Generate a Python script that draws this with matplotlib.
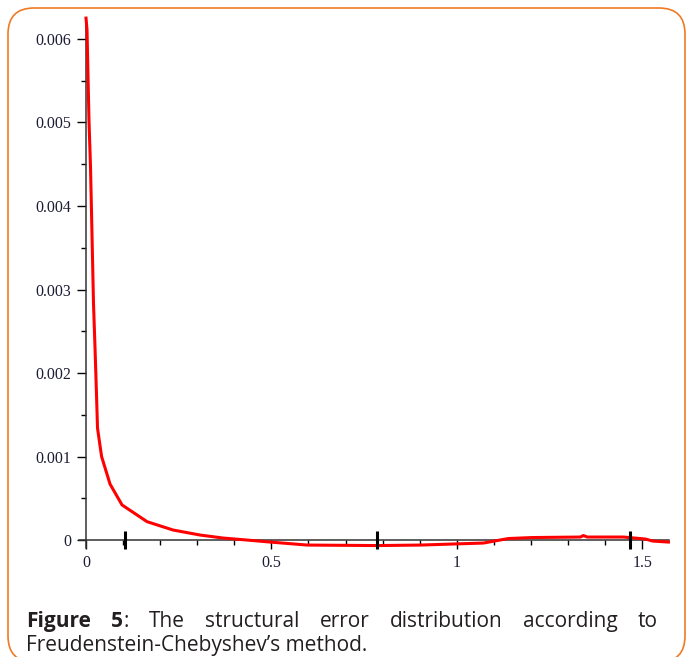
import matplotlib
matplotlib.use("Agg")
import matplotlib.pyplot as plt
from matplotlib.patches import FancyBboxPatch
from matplotlib.transforms import IdentityTransform
from matplotlib.ticker import MultipleLocator, FuncFormatter

# structural error curve (x in rad, y in units of 1e-3)
x_vals = [0, 0.0027, 0.0054, 0.0081, 0.0121, 0.0148, 0.0175, 0.0202, 0.0243,
          0.0283, 0.0310, 0.042, 0.0648, 0.0972, 0.1646, 0.2348, 0.3077,
          0.3698, 0.4345, 0.4966, 0.5965, 0.7854, 0.9015, 1.0715, 1.139,
          1.2038, 1.3333, 1.341, 1.352, 1.450, 1.509, 1.528, 1.5708]
y_vals = [6.25, 6.11, 5.54, 5.01, 4.47, 3.93, 3.38, 2.83, 2.30,
          1.74, 1.34, 1.00, 0.67, 0.42, 0.22, 0.12, 0.06,
          0.024, 0.0, -0.024, -0.06, -0.066, -0.06, -0.036, 0.018,
          0.03, 0.036, 0.054, 0.036, 0.036, 0.012, -0.012, -0.024]
y_vals = [v * 1e-3 for v in y_vals]

# Chebyshev precision points marked on the x axis
precision_pts = [0.105, 0.785, 1.466]

caption_bold = ["Figure", "5"]
caption_line1 = ["The", "structural", "error", "distribution", "according", "to"]
caption_line2 = "Freudenstein-Chebyshev\u2019s method."

W, H = 686, 657
fig = plt.figure(figsize=(W / 100, H / 100), dpi=100)
fig.patch.set_facecolor("white")

ax = fig.add_axes([78.6 / W, (H - 548.4) / H, 590.3 / W, 530.3 / H])
ax.set_xlim(-0.02, 1.572)
ax.set_ylim(-0.0001, 0.00625)

ax.plot(x_vals, y_vals, color="#ff0000", lw=2.2, clip_on=False, zorder=3)
ax.plot(precision_pts, [0] * len(precision_pts), "|", color="black",
        ms=13, mew=2.2, zorder=4, clip_on=False)

for s in ["top", "right"]:
    ax.spines[s].set_visible(False)
ax.spines["left"].set_position(("data", 0))
ax.spines["bottom"].set_position(("data", 0))
for s in ["left", "bottom"]:
    ax.spines[s].set_color("#333333")
    ax.spines[s].set_linewidth(1.1)

ax.xaxis.set_major_locator(MultipleLocator(0.5))
ax.xaxis.set_minor_locator(MultipleLocator(0.1))
ax.yaxis.set_major_locator(MultipleLocator(0.001))
ax.yaxis.set_minor_locator(MultipleLocator(0.0005))
ax.xaxis.set_major_formatter(FuncFormatter(lambda v, p: "%g" % v))
ax.yaxis.set_major_formatter(FuncFormatter(lambda v, p: "0" if abs(v) < 1e-12 else "%.3f" % v))

ax.tick_params(axis="both", which="major", direction="out", length=6.5,
               width=1.0, color="black", labelcolor="#1c1c34", pad=4)
ax.tick_params(axis="both", which="minor", direction="out", length=3.8,
               width=1.0, color="black")
for lab in ax.get_xticklabels() + ax.get_yticklabels():
    lab.set_fontfamily("Liberation Serif")
    lab.set_fontsize(11.5)
ax.patch.set_alpha(0)

# rounded orange border
border = FancyBboxPatch((8, H - 662), 677, 654,
                        boxstyle="round,pad=0,rounding_size=26",
                        transform=IdentityTransform(), fill=False,
                        edgecolor="#f07a24", lw=1.2, clip_on=False)
fig.add_artist(border)

# caption, first line justified
renderer = fig.canvas.get_renderer()
cap_kw = dict(family="Open Sans", color="#231f20")

def width_of(txt, size, weight="normal"):
    t = fig.text(0, 0, txt, fontsize=size, weight=weight, **cap_kw)
    w = t.get_window_extent(renderer).width
    t.remove()
    return w

fs = 10 * 342 / width_of(caption_line2, 10)
left, right = 26, 658
base1 = 1 - 627 / H
base2 = 1 - 651 / H

w_fig = width_of(caption_bold[0], fs, "bold")
w_5 = width_of(caption_bold[1], fs, "bold")
w_col = width_of(":", fs)
widths = [w_fig, w_5 + w_col] + [width_of(w, fs) for w in caption_line1]
gap = (right - left - sum(widths)) / (len(widths) - 1)

xpos = left
fig.text(xpos / W, base1, caption_bold[0], fontsize=fs, weight="bold", va="baseline", **cap_kw)
xpos += w_fig + gap
fig.text(xpos / W, base1, caption_bold[1], fontsize=fs, weight="bold", va="baseline", **cap_kw)
fig.text((xpos + w_5) / W, base1, ":", fontsize=fs, va="baseline", **cap_kw)
xpos += w_5 + w_col + gap
for w, wd in zip(caption_line1, widths[2:]):
    fig.text(xpos / W, base1, w, fontsize=fs, va="baseline", **cap_kw)
    xpos += wd + gap

fig.text(left / W, base2, caption_line2, fontsize=fs, va="baseline", **cap_kw)

fig.savefig("out.png", dpi=100)
